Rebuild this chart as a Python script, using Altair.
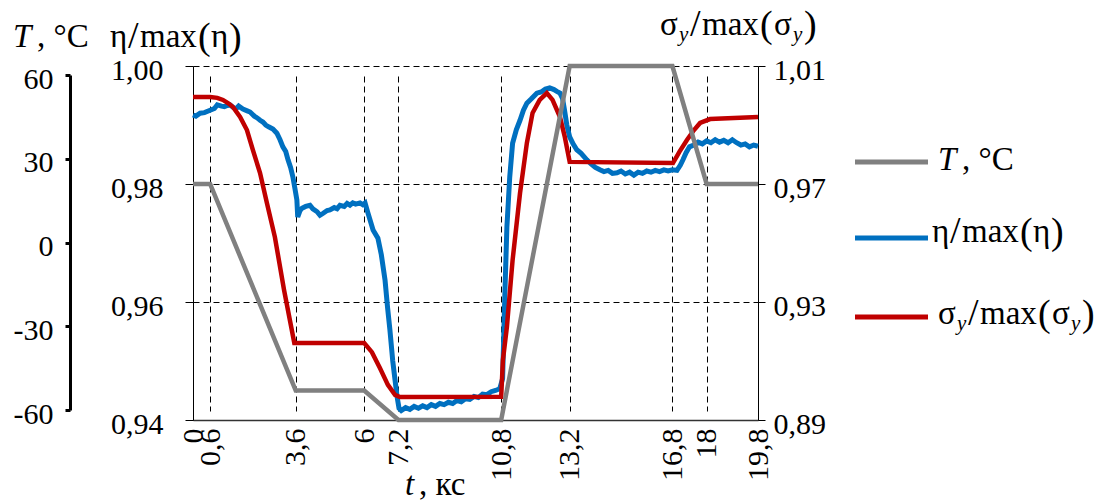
import altair as alt
import pandas as pd

# ---- data -------------------------------------------------------------
# temperature programme, °C vs time (ks)
t_T = [0, 0.6, 3.6, 6, 7.2, 10.8, 13.2, 16.8, 18, 19.8]
T_vals = [20, 20, -50, -50, -60, -60, 60, 60, 20, 20]

# normalised viscosity
t_eta = [0, 0.1, 0.25, 0.4, 0.6, 0.75, 0.85, 1.0, 1.1, 1.2, 1.3, 1.4, 1.5, 1.6,
         1.75, 1.9, 2.0, 2.15, 2.25, 2.35, 2.45, 2.55, 2.65, 2.8, 2.94, 3.05,
         3.15, 3.25, 3.33, 3.42, 3.5, 3.58, 3.64, 3.67,
         3.75, 3.82, 3.95, 4.1, 4.2, 4.35, 4.45, 4.55, 4.7, 4.8, 4.95, 5.05,
         5.15, 5.3, 5.4, 5.5, 5.6, 5.7, 5.85, 5.95, 6.03,
         6.13, 6.31, 6.48, 6.6, 6.73, 6.82, 6.9, 7.0, 7.08, 7.15, 7.22, 7.3,
         7.45, 7.6, 7.75, 7.9, 8.05, 8.2, 8.35, 8.5, 8.65, 8.8, 8.95, 9.1, 9.25,
         9.4, 9.55, 9.7, 9.85, 10.0, 10.15, 10.3, 10.45, 10.6, 10.75, 10.85,
         10.93, 11.0, 11.1, 11.2, 11.33, 11.46, 11.58, 11.7, 11.85, 12.05, 12.2,
         12.35, 12.5, 12.65, 12.75, 12.86, 12.95, 13.02, 13.1, 13.2, 13.32,
         13.45, 13.6, 13.8, 13.95, 14.1, 14.26, 14.4, 14.55, 14.7, 14.86, 15.0,
         15.15, 15.3, 15.45, 15.6, 15.75, 15.9, 16.05, 16.2, 16.35, 16.5, 16.65,
         16.8, 16.96, 17.08, 17.17, 17.28, 17.4, 17.55, 17.7, 17.85, 18.0, 18.15,
         18.3, 18.45, 18.6, 18.75, 18.9, 19.05, 19.2, 19.35, 19.5, 19.65, 19.8]
eta_vals = [0.9917, 0.9915, 0.9920, 0.9921, 0.9925, 0.9928, 0.9934, 0.9932,
            0.9931, 0.9933, 0.9934, 0.9930, 0.9927, 0.9932, 0.9927, 0.9924,
            0.9922, 0.9915, 0.9912, 0.9908, 0.9905, 0.9900, 0.9897, 0.9893,
            0.9886, 0.9875, 0.9863, 0.9855, 0.9841, 0.9828, 0.9812, 0.9790,
            0.9773, 0.9744,
            0.9755, 0.9759, 0.9762, 0.9764, 0.9758, 0.9753, 0.9747, 0.9750,
            0.9755, 0.9756, 0.9760, 0.9758, 0.9764, 0.9762, 0.9767, 0.9764,
            0.9768, 0.9766, 0.9768, 0.9765, 0.9768,
            0.9751, 0.9722, 0.9708, 0.9680, 0.9637, 0.9590, 0.9553, 0.9500,
            0.9468, 0.9440, 0.9420, 0.9416,
            0.9421, 0.9418, 0.9423, 0.9420, 0.9424, 0.9421, 0.9426, 0.9423,
            0.9428, 0.9426, 0.9430, 0.9428, 0.9433, 0.9431, 0.9436, 0.9435,
            0.9440, 0.9438, 0.9444, 0.9443, 0.9448, 0.9450, 0.9453, 0.9470,
            0.9615, 0.9727, 0.9812, 0.9869, 0.9892, 0.9908, 0.9925, 0.9937,
            0.9944, 0.9954, 0.9956, 0.9961, 0.9963, 0.9960, 0.9957, 0.9954,
            0.9945, 0.9925, 0.9900, 0.9880, 0.9868, 0.9858, 0.9852, 0.9841,
            0.9834, 0.9828, 0.9824, 0.9821, 0.9823, 0.9818, 0.9819, 0.9822,
            0.9817, 0.9820, 0.9815, 0.9820, 0.9818, 0.9822, 0.9820, 0.9823,
            0.9821, 0.9824, 0.9822, 0.9824, 0.9823, 0.9832, 0.9841, 0.9853,
            0.9863, 0.9866, 0.9871, 0.9868, 0.9873, 0.9870, 0.9875, 0.9871,
            0.9874, 0.9870, 0.9875, 0.9870, 0.9866, 0.9868, 0.9863, 0.9866,
            0.9864]

# normalised yield stress
t_sig = [0, 0.6, 0.85, 1.05, 1.25, 1.4, 1.65, 1.89, 2.1, 2.35, 2.59, 2.87,
         3.19, 3.55, 6.0, 6.27, 6.55, 6.83, 7.08, 7.25, 10.8, 10.86, 11.0,
         11.2, 11.46, 11.7, 11.9, 12.15, 12.4, 12.6, 12.86, 13.03, 13.2,
         16.82, 17.05, 17.31, 17.55, 17.77, 18.12, 19.8]
sig_vals = [0.9995, 0.9995, 0.9992, 0.9985, 0.9973, 0.9961, 0.9927, 0.9883,
            0.9815, 0.9737, 0.9636, 0.9520, 0.9341, 0.9161, 0.9161, 0.9130,
            0.9076, 0.9019, 0.8985, 0.8978, 0.8979, 0.9103, 0.9215, 0.9442,
            0.9669, 0.9839, 0.9941, 0.9985, 1.0008, 0.9985, 0.9927, 0.9859,
            0.9775, 0.9771, 0.9810, 0.9849, 0.9882, 0.9907, 0.9920, 0.9927]

x_ticks = [0, 0.6, 3.6, 6, 7.2, 10.8, 13.2, 16.8, 18, 19.8]
T_ticks = [-60, -30, 0, 30, 60]
eta_ticks = [0.94, 0.96, 0.98, 1.00]
sig_ticks = [0.89, 0.93, 0.97, 1.01]

# ---- styling ----------------------------------------------------------
FONT = "Liberation Serif"
LBL = 30
EQ = 33
BIG = 38
SUB = 21
W, H = 565, 354
GRAY, BLUE, RED = "#808080", "#0070C0", "#C00000"

df_T = pd.DataFrame({"t": t_T, "T": T_vals})
df_eta = pd.DataFrame({"t": t_eta, "eta": eta_vals})
df_sig = pd.DataFrame({"t": t_sig, "sig": sig_vals})

comma = "replace(toString(datum.value), '.', ',')"
comma2 = "replace(format(datum.value, '.2f'), '.', ',')"

x_enc = alt.X(
    "t:Q",
    title="",
    scale=alt.Scale(domain=[0, 19.8], nice=False, zero=False),
    axis=alt.Axis(values=x_ticks, labelAngle=270, labelExpr=comma,
                  labelOverlap=False, labelFlush=False, labelPadding=8,
                  ticks=False, tickSize=0,
                  domainColor="#333333", domainWidth=1.5,
                  grid=True, gridColor="black", gridDash=[6, 4], gridWidth=1),
)

# temperature axis, drawn a little inside the plot height
T_axis = alt.Chart(df_T).mark_line(opacity=0).encode(
    x=x_enc,
    y=alt.Y("T:Q", title="",
            scale=alt.Scale(domain=[-60, 60], range=[344, 9], nice=False, zero=False),
            axis=alt.Axis(orient="left", offset=123, values=T_ticks,
                          labelExpr="toString(datum.value)",
                          labelPadding=12, labelOffset=4,
                          domainColor="black", domainWidth=3,
                          tickColor="black", tickWidth=3, tickSize=5,
                          grid=False)),
)

T_line = alt.Chart(df_T).mark_line(color=GRAY, strokeWidth=4.5).encode(
    x=x_enc,
    y=alt.Y("T:Q", title="",
            scale=alt.Scale(domain=[-60, 60], nice=False, zero=False),
            axis=None),
)

eta_line = alt.Chart(df_eta).mark_line(color=BLUE, strokeWidth=5).encode(
    x=x_enc,
    y=alt.Y("eta:Q", title="",
            scale=alt.Scale(domain=[0.94, 1.0], nice=False, zero=False),
            axis=alt.Axis(orient="left", values=eta_ticks, labelExpr=comma2,
                          labelPadding=22, labelOffset=4,
                          domainColor="black", domainWidth=1,
                          tickColor="black", tickSize=8,
                          grid=True, gridColor="black", gridDash=[6, 4],
                          gridWidth=1)),
)

sig_line = alt.Chart(df_sig).mark_line(color=RED, strokeWidth=4.5).encode(
    x=x_enc,
    y=alt.Y("sig:Q", title="",
            scale=alt.Scale(domain=[0.89, 1.01], nice=False, zero=False),
            axis=alt.Axis(orient="right", values=sig_ticks, labelExpr=comma2,
                          labelPadding=8, labelOffset=4,
                          domainColor="black", domainWidth=1,
                          tickColor="black", tickSize=7, grid=False)),
)

ONE = alt.Data(values=[{}])


def pieces(items, x0, y0):
    """Text runs placed one after another (baseline-aligned)."""
    out = []
    for txt, dx, dy, size, style in items:
        out.append(
            alt.Chart(ONE).mark_text(
                text=txt, font=FONT, fontSize=size, fontStyle=style,
                align="left", baseline="alphabetic", color="black",
            ).encode(x=alt.value(x0 + dx), y=alt.value(y0 + dy))
        )
    return out


def T_label(x0, y0):
    return pieces([("T", 0, 0, EQ, "italic"), (", °C", 24, 0, EQ, "normal")], x0, y0)


def eta_label(x0, y0):
    return pieces([("η", 0, 0, EQ, "normal"), ("/", 18, 1, BIG, "normal"),
                   ("max", 30, 0, EQ, "normal"), ("(", 88, 2, BIG, "normal"),
                   ("η", 101, 0, EQ, "normal"), (")", 119, 2, BIG, "normal")], x0, y0)


def sig_label(x0, y0):
    return pieces([("σ", 0, 0, EQ, "normal"), ("y", 19, 6, SUB, "italic"),
                   ("/", 30, 1, BIG, "normal"), ("max", 42, 0, EQ, "normal"),
                   ("(", 100, 2, BIG, "normal"), ("σ", 114, 0, EQ, "normal"),
                   ("y", 133, 6, SUB, "italic"), (")", 144, 2, BIG, "normal")], x0, y0)


def legend_rule(color, y):
    return alt.Chart(ONE).mark_rule(color=color, strokeWidth=5).encode(
        x=alt.value(662), x2=alt.value(735), y=alt.value(y))


texts = []
# axis titles
texts += T_label(-180, -19)
texts += eta_label(-83, -19)
texts += sig_label(467, -31)
texts += pieces([("t", 0, 0, EQ, "italic"), (", кс", 14, 0, EQ, "normal")], 212, 429)
# legend
texts += [legend_rule(GRAY, 96), legend_rule(BLUE, 172), legend_rule(RED, 251)]
texts += T_label(745, 104)
texts += eta_label(739, 176)
texts += sig_label(745, 258)

chart = alt.layer(
    T_axis, eta_line, sig_line, T_line, *texts
).resolve_scale(
    y="independent"
).properties(
    width=W, height=H,
    padding={"left": 193, "top": 66, "right": 355, "bottom": 82},
    autosize=alt.AutoSizeParams(type="none"),
).configure(
    font=FONT
).configure_axis(
    labelFont=FONT, labelFontSize=LBL, labelColor="black", titleFont=FONT
).configure_view(strokeWidth=0)

chart.save("out.html", embed_options={"renderer": "svg", "actions": False})
